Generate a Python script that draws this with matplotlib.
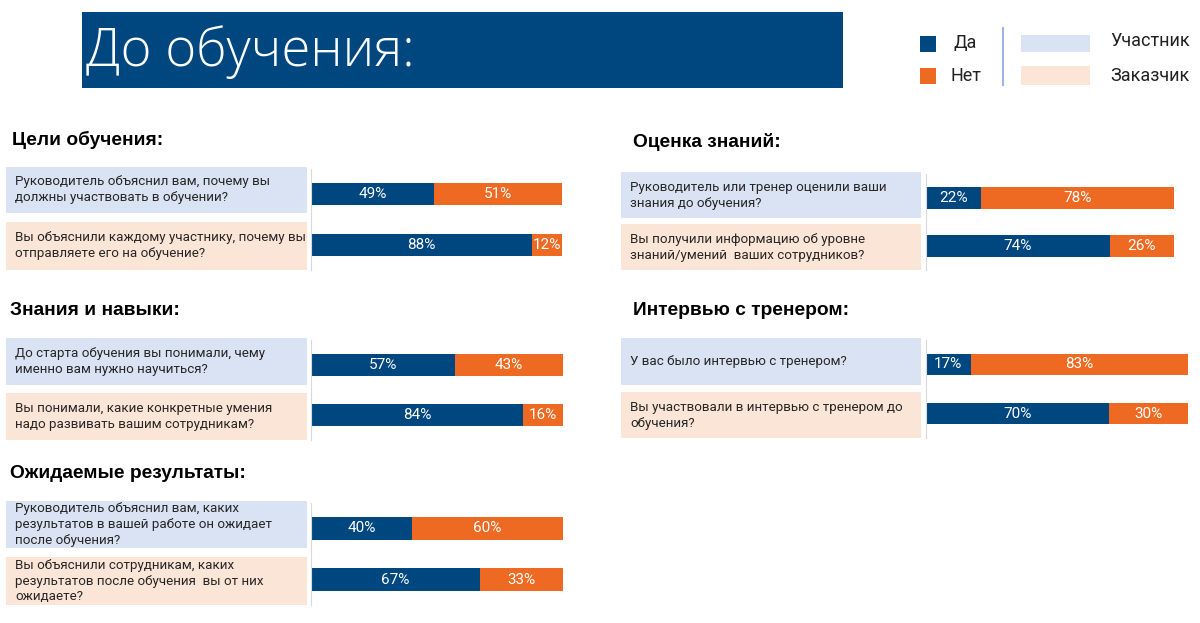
import matplotlib
matplotlib.use("Agg")
import matplotlib.pyplot as plt
import matplotlib.patches as patches

# data
titles = ["Цели обучения:", "Знания и навыки:", "Ожидаемые результаты:",
          "Оценка знаний:", "Интервью с тренером:"]
questions = [
    ["Руководитель объяснил вам, почему вы\nдолжны участвовать в обучении?",
     "Вы объяснили каждому участнику, почему вы\nотправляете его на обучение?"],
    ["До старта обучения вы понимали, чему\nименно вам нужно научиться?",
     "Вы понимали, какие конкретные умения\nнадо развивать вашим сотрудникам?"],
    ["Руководитель объяснил вам, каких\nрезультатов в вашей работе он ожидает\nпосле обучения?",
     "Вы объяснили сотрудникам, каких\nрезультатов после обучения  вы от них\nожидаете?"],
    ["Руководитель или тренер оценили ваши\nзнания до обучения?",
     "Вы получили информацию об уровне\nзнаний/умений  ваших сотрудников?"],
    ["У вас было интервью с тренером?",
     "Вы участвовали в интервью с тренером до\nобучения?"],
]
yes_vals = [[49, 88], [57, 84], [40, 67], [22, 74], [17, 70]]
no_vals = [[51, 12], [43, 16], [60, 33], [78, 26], [83, 30]]
legend_answers = ["Да", "Нет"]
legend_roles = ["Участник", "Заказчик"]

BLUE = "#00467F"
ORANGE = "#EE6A22"
LBLUE = "#DAE3F3"
PEACH = "#FBE5D6"

W, H = 1200, 623
fig = plt.figure(figsize=(12, 6.23), dpi=100)

def frect(x0, y0, x1, y1):
    return [x0 / W, 1 - y1 / H, (x1 - x0) / W, (y1 - y0) / H]

def add_box(x0, y0, x1, y1, color):
    fig.add_artist(patches.Rectangle((x0 / W, 1 - y1 / H), (x1 - x0) / W, (y1 - y0) / H,
                                     transform=fig.transFigure, color=color, lw=0))

LBL = ["Roboto", "DejaVu Sans"]

# title banner
add_box(82, 12, 843, 88, BLUE)
fig.text(86 / W, 1 - 52 / H, "До обучения:", color="white", fontsize=38,
         family=["Open Sans", "DejaVu Sans"], weight="light", va="center", ha="left")

# legend
add_box(920, 36, 936, 52, BLUE)
add_box(920, 68, 936, 84, ORANGE)
fig.text(953 / W, 1 - 43 / H, legend_answers[0], fontsize=13, family=LBL, va="center", color="#222222")
fig.text(950 / W, 1 - 76 / H, legend_answers[1], fontsize=13, family=LBL, va="center", color="#222222")
fig.add_artist(plt.Line2D([1003 / W, 1003 / W], [1 - 28 / H, 1 - 85 / H], color="#9DB5E0", lw=1.5))
add_box(1021, 35, 1090, 52, LBLUE)
add_box(1021, 66, 1090, 85, PEACH)
fig.text(1110 / W, 1 - 41 / H, legend_roles[0], fontsize=13, family=LBL, va="center", color="#222222")
fig.text(1110 / W, 1 - 76 / H, legend_roles[1], fontsize=13, family=LBL, va="center", color="#222222")

# panel layout: heading x, heading y, box x0, box x1, axis x, bar end x, box rows (top, bottom)
layout = [
    (12, 140, 6, 307, 311, 562, [(167, 213), (222, 270)]),
    (10, 310, 6, 307, 311, 563, [(338, 385), (393, 440)]),
    (10, 474, 6, 307, 311, 563, [(501, 548), (557, 605)]),
    (633, 142, 621, 921, 926, 1174, [(172, 218), (224, 270)]),
    (633, 310, 621, 921, 926, 1188, [(338, 385), (392, 438)]),
]

for i, (hx, hy, bx0, bx1, ax_x, bar_end, rows) in enumerate(layout):
    fig.text(hx / W, 1 - hy / H, titles[i], fontsize=13.8, weight="bold",
             family=["Liberation Sans", "DejaVu Sans"], va="center", ha="left", color="black")
    for j, (ry0, ry1) in enumerate(rows):
        add_box(bx0, ry0, bx1, ry1, LBLUE if j == 0 else PEACH)
        fig.text((bx0 + 9) / W, 1 - (ry0 + ry1) / 2 / H, questions[i][j], fontsize=9.6,
                 family=LBL, va="center", ha="left", color="#262626", linespacing=1.3)
    top, bot = rows[0][0] + 2, rows[1][1]
    ax = fig.add_axes(frect(ax_x, top, bar_end, bot))
    ypos = [0, 1]
    ax.barh(ypos, yes_vals[i], height=0.44, color=BLUE)
    ax.barh(ypos, no_vals[i], left=yes_vals[i], height=0.44, color=ORANGE)
    for y, yv, nv in zip(ypos, yes_vals[i], no_vals[i]):
        ax.text(yv / 2, y, f"{yv}%", color="white", ha="center", va="center",
                fontsize=11, family=LBL)
        ax.text(yv + nv / 2, y, f"{nv}%", color="white", ha="center", va="center",
                fontsize=11, family=LBL)
    ax.set_xlim(0, 100)
    ax.set_ylim(1.5, -0.5)
    for s in ["top", "right", "bottom"]:
        ax.spines[s].set_visible(False)
    ax.spines["left"].set_color("#D9D9D9")
    ax.set_xticks([])
    ax.set_yticks([])
    ax.patch.set_alpha(0)

fig.savefig("out.png", dpi=100, facecolor="white")
